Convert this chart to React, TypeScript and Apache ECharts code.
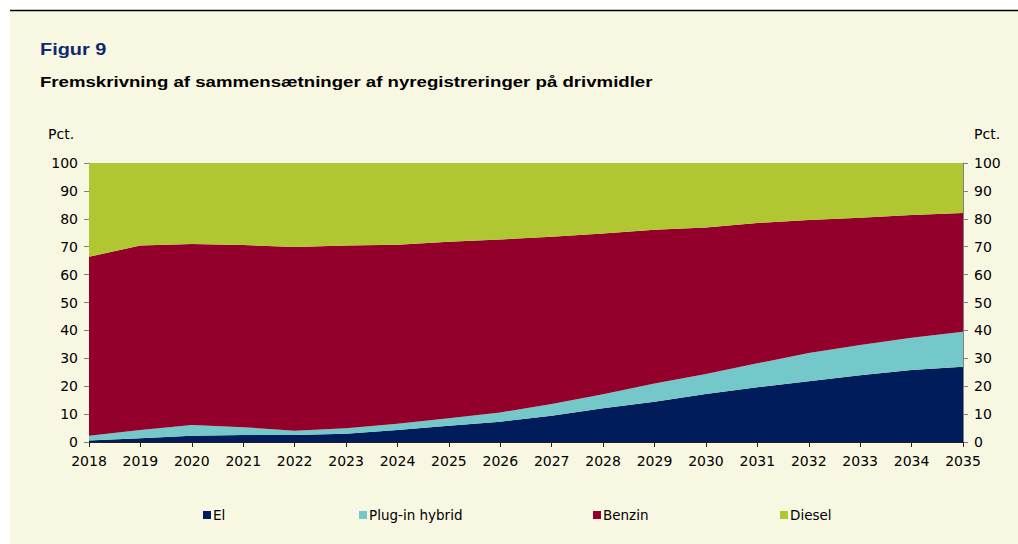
import React, { useEffect, useRef } from "react";
import * as echarts from "echarts";

const years = ["2018","2019","2020","2021","2022","2023","2024","2025","2026","2027","2028","2029","2030","2031","2032","2033","2034","2035"];
const el = [0.5,1.3,2.2,2.5,2.5,3.0,4.3,5.8,7.3,9.4,12.1,14.4,17.2,19.6,21.8,23.9,25.8,27.0];
const plugin = [1.7,3.0,3.9,2.8,1.5,1.9,2.2,2.7,3.3,4.2,5.0,6.6,7.2,8.6,10.1,10.9,11.6,12.5];
const benzin = [64.2,66.1,64.9,65.3,65.9,65.5,64.2,63.3,62.0,60.0,57.6,55.1,52.5,50.3,47.7,45.6,44.0,42.6];
const diesel = [33.6,29.6,29.0,29.4,30.1,29.6,29.3,28.2,27.4,26.4,25.3,23.9,23.1,21.5,20.4,19.6,18.6,17.9];

const seriesNames = ["El", "Plug-in hybrid", "Benzin", "Diesel"];
const seriesData = [el, plugin, benzin, diesel];
const colors = ["#001C5A", "#74C8CA", "#93002B", "#B1C731"];
const legendLeft = [198, 354, 588, 775];

const FONT = "'Liberation Sans', Arial, sans-serif";
const LFONT = "'DejaVu Sans', sans-serif";

export default function App() {
  const ref = useRef<HTMLDivElement>(null);
  useEffect(() => {
    document.body.style.margin = "0";
    const chart = echarts.init(ref.current!, null, { renderer: "svg" });
    const axisCommon = {
      type: "value",
      min: 0,
      max: 100,
      interval: 10,
      axisLine: { show: true, lineStyle: { color: "#808080", width: 1 } },
      axisTick: { show: true, inside: false, length: 5, lineStyle: { color: "#808080" } },
      splitLine: { show: false },
      axisLabel: { color: "#000", fontSize: 14, fontFamily: LFONT, margin: 11 },
    };
    chart.setOption({
      animation: false,
      backgroundColor: "#FFFFFF",
      textStyle: { fontFamily: LFONT },
      graphic: [
        { type: "rect", silent: true, z: -10, shape: { x: 10, y: 10, width: 1008, height: 534 }, style: { fill: "#F8F7E1" } },
        { type: "line", silent: true, shape: { x1: 10, y1: 10.5, x2: 1018, y2: 10.5 }, style: { stroke: "#000", lineWidth: 1.5 } },
        { type: "text", x: 40, y: 41, scaleX: 1.17, style: { text: "Figur 9", fill: "#0E2A6E", font: `bold 17px ${FONT}` } },
        { type: "text", x: 40, y: 75, scaleX: 1.33, style: { text: "Fremskrivning af sammensætninger af nyregistreringer på drivmidler", fill: "#000", font: `bold 14px ${FONT}` } },
        { type: "text", x: 48, y: 127, style: { text: "Pct.", fill: "#000", font: `14px ${LFONT}` } },
        { type: "text", x: 974, y: 127, style: { text: "Pct.", fill: "#000", font: `14px ${LFONT}` } },
      ],
      grid: { left: 89, right: 55, top: 163, bottom: 102 },
      legend: seriesNames.map((n, i) => ({
        data: [n],
        left: legendLeft[i],
        top: 503,
        itemWidth: 8,
        itemHeight: 8,
        icon: "rect",
        itemGap: 4,
        textStyle: { color: "#000", fontSize: 13.5, fontFamily: LFONT, padding: [0, 0, 0, -3] },
        selectedMode: false,
      })),
      xAxis: {
        type: "category",
        data: years,
        boundaryGap: false,
        axisLine: { show: true, lineStyle: { color: "#222", width: 1 } },
        axisTick: { show: true, length: 5, lineStyle: { color: "#222" }, alignWithLabel: true },
        axisLabel: { color: "#000", fontSize: 14, fontFamily: LFONT, margin: 12, interval: 0 },
        splitLine: { show: false },
      },
      yAxis: [
        { ...axisCommon, position: "left" },
        { ...axisCommon, position: "right" },
      ],
      series: seriesNames.map((n, i) => ({
        name: n,
        type: "line",
        stack: "total",
        data: seriesData[i],
        symbol: "none",
        lineStyle: { width: 0 },
        itemStyle: { color: colors[i] },
        areaStyle: { color: colors[i], opacity: 1 },
        z: 2,
      })),
    });
    return () => chart.dispose();
  }, []);
  return <div ref={ref} style={{ width: 1018, height: 544, position: "absolute", left: 0, top: 0 }} />;
}
